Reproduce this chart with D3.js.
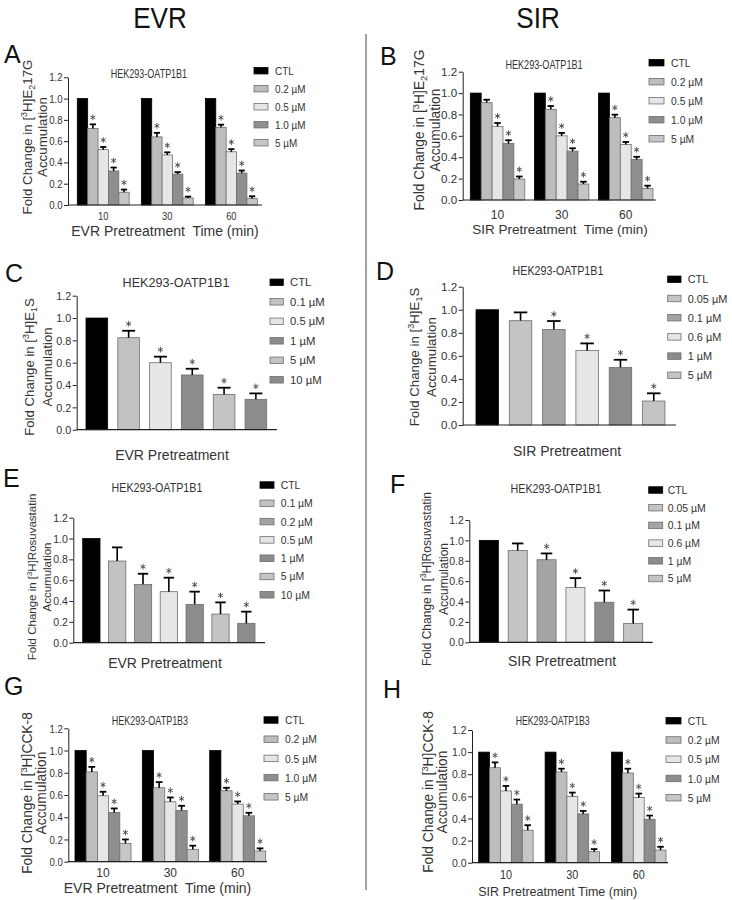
<!DOCTYPE html>
<html><head><meta charset="utf-8">
<script src="https://cdn.jsdelivr.net/npm/d3@7"></script>
<style>body{margin:0;background:#fff} text{font-family:"Liberation Sans",Arial,Helvetica,sans-serif}</style>
</head><body><script>
// ---------- DATA ----------
const yTicks = [0, 0.2, 0.4, 0.6, 0.8, 1.0, 1.2];
const timeLabels = ["10", "30", "60"];
const concTime = ["CTL", "0.2 µM", "0.5 µM", "1.0 µM", "5 µM"];

const meanA = [[1, 0.72, 0.52, 0.32, 0.12], [1, 0.64, 0.47, 0.29, 0.066], [1, 0.73, 0.50, 0.30, 0.06]];
const errA  = [[0, 0.038, 0.025, 0.032, 0.025], [0, 0.038, 0.025, 0.019, 0.013], [0, 0.025, 0.025, 0.024, 0.022]];
const starA = [[0, 1, 1, 1, 1], [0, 1, 1, 1, 1], [0, 1, 1, 1, 1]];

const meanB = [[1, 0.91, 0.689, 0.528, 0.196], [1, 0.848, 0.60, 0.457, 0.149], [1, 0.77, 0.519, 0.379, 0.109]];
const errB  = [[0, 0.028, 0.031, 0.031, 0.024], [0, 0.031, 0.027, 0.027, 0.022], [0, 0.028, 0.024, 0.025, 0.025]];
const starB = [[0, 0, 1, 1, 1], [0, 1, 1, 1, 1], [0, 1, 1, 1, 1]];

const concC = ["CTL", "0.1 µM", "0.5 µM", "1 µM", "5 µM", "10 µM"];
const meanC = [1, 0.824, 0.60, 0.49, 0.316, 0.272];
const errC  = [0, 0.062, 0.054, 0.056, 0.060, 0.053];
const starC = [0, 1, 1, 1, 1, 1];

const concD = ["CTL", "0.05 µM", "0.1 µM", "0.6 µM", "1 µM", "5 µM"];
const meanD = [1, 0.905, 0.829, 0.647, 0.50, 0.208];
const errD  = [0, 0.072, 0.073, 0.061, 0.066, 0.067];
const starD = [0, 0, 1, 1, 1, 1];

const concE = ["CTL", "0.1 µM", "0.2 µM", "0.5 µM", "1 µM", "5 µM", "10 µM"];
const meanE = [1, 0.784, 0.56, 0.49, 0.368, 0.275, 0.186];
const errE  = [0, 0.131, 0.102, 0.134, 0.122, 0.112, 0.112];
const starE = [0, 0, 1, 1, 1, 1, 1];

const concF = ["CTL", "0.05 µM", "0.1 µM", "0.6 µM", "1 µM", "5 µM"];
const meanF = [1, 0.90, 0.81, 0.538, 0.393, 0.184];
const errF  = [0, 0.070, 0.062, 0.092, 0.115, 0.137];
const starF = [0, 0, 1, 1, 1, 1];

const meanG = [[1, 0.808, 0.593, 0.443, 0.165], [1, 0.665, 0.539, 0.461, 0.111], [1, 0.638, 0.518, 0.413, 0.096]];
const errG  = [[0, 0.045, 0.036, 0.036, 0.035], [0, 0.051, 0.039, 0.042, 0.033], [0, 0.027, 0.024, 0.027, 0.024]];
const starG = [[0, 1, 1, 1, 1], [0, 1, 1, 1, 1], [0, 1, 1, 1, 1]];

const meanH = [[1, 0.859, 0.649, 0.529, 0.294], [1, 0.82, 0.60, 0.441, 0.099], [1, 0.811, 0.589, 0.393, 0.114]];
const errH  = [[0, 0.048, 0.045, 0.042, 0.045], [0, 0.030, 0.034, 0.027, 0.024], [0, 0.039, 0.036, 0.033, 0.030]];
const starH = [[0, 1, 1, 1, 1], [0, 1, 1, 1, 1], [0, 1, 1, 1, 1]];

// ---------- STYLES ----------
const colTime = ["#000000", "#bdbdbd", "#e6e6e6", "#8e8e8e", "#c6c6c6"];
const colC = ["#000000", "#c2c2c2", "#e6e6e6", "#8c8c8c", "#c4c4c4", "#8c8c8c"];
const colDF = ["#000000", "#c4c4c4", "#a4a4a4", "#e6e6e6", "#8c8c8c", "#c4c4c4"];
const colE = ["#000000", "#c2c2c2", "#a2a2a2", "#e6e6e6", "#8c8c8c", "#c4c4c4", "#8c8c8c"];

const labE217G = [["Fold Change in [", ""], ["3", "sup"], ["H]E", ""], ["2", "sub"], ["17G", ""]];
const labE1S = [["Fold Change in [", ""], ["3", "sup"], ["H]E", ""], ["1", "sub"], ["S", ""]];
const labRos = [["Fold Change in [", ""], ["3", "sup"], ["H]Rosuvastatin", ""]];
const labCCK = [["Fold Change in [", ""], ["3", "sup"], ["H]CCK-8", ""]];

const svg = d3.select("body").append("svg").attr("width", 732).attr("height", 900);

function sq(sel, s) {
  sel.each(function () {
    const t = d3.select(this);
    const x = +t.attr("x") || 0, y = +t.attr("y") || 0;
    t.attr("transform", `translate(${x},${y}) scale(${s},1) translate(${-x},${-y})`);
  });
}
function label(g, txt, x, y, f, s, anchor, fill) {
  const t = g.append("text").attr("x", x).attr("y", y).attr("font-size", f)
    .attr("text-anchor", anchor || "middle").attr("fill", fill || "#333")
    .style("white-space", "pre").text(txt);
  if (s && s !== 1) sq(t, s);
  return t;
}
function yTitle(g, x, cy, f, parts) {
  const t = g.append("text").attr("transform", `translate(${x},${cy}) rotate(-90)`)
    .attr("text-anchor", "middle").attr("font-size", f).attr("fill", "#333");
  let shift = 0;
  parts.forEach(([txt, kind]) => {
    const ts = t.append("tspan").text(txt);
    const target = kind === "sup" ? -0.38 * f : kind === "sub" ? 0.22 * f : 0;
    ts.attr("dy", target - shift); shift = target;
    if (kind) ts.attr("font-size", f * 0.68);
  });
}
const starPath = d3.symbol(d3.symbolAsterisk, 22)();

function drawPanel(c, d) {
  const g = svg.append("g");
  const y = d3.scaleLinear().domain([0, 1.2]).range([c.y0, c.y12]);
  const gx = d3.scaleBand().domain(d.groups).range([c.r0, c.r1]).paddingInner(c.pad || 0).paddingOuter(0);
  const bx = d3.scaleBand().domain(d.series).range([0, gx.bandwidth()]).paddingInner(c.innerPad || 0).paddingOuter(0);
  const color = d3.scaleOrdinal().domain(d.series).range(d.colors);
  const rows = [];
  d.groups.forEach((grp, gi) => d.series.forEach((s, si) =>
    rows.push({ grp, s, v: d.means[gi][si], e: d.errs[gi][si], star: d.stars[gi][si] })));
  const bw = bx.bandwidth();
  const cx = r => gx(r.grp) + bx(r.s) + bw / 2;

  g.selectAll("rect.bar").data(rows).join("rect").attr("class", "bar")
    .attr("x", r => gx(r.grp) + bx(r.s)).attr("y", r => y(r.v))
    .attr("width", bw).attr("height", r => y(0) - y(r.v))
    .attr("fill", r => color(r.s))
    .attr("stroke", r => color(r.s) === "#000000" ? "#000" : "#6e6e6e").attr("stroke-width", 0.8);

  const eb = rows.filter(r => r.e > 0);
  g.selectAll("line.ev").data(eb).join("line").attr("class", "ev")
    .attr("x1", cx).attr("x2", cx).attr("y1", r => y(r.v)).attr("y2", r => y(r.v + r.e))
    .attr("stroke", "#000").attr("stroke-width", 1.6);
  g.selectAll("line.ec").data(eb).join("line").attr("class", "ec")
    .attr("x1", r => cx(r) - bw * 0.3).attr("x2", r => cx(r) + bw * 0.3)
    .attr("y1", r => y(r.v + r.e)).attr("y2", r => y(r.v + r.e))
    .attr("stroke", "#000").attr("stroke-width", 1.8);
  g.selectAll("path.star").data(rows.filter(r => r.star)).join("path").attr("class", "star")
    .attr("d", starPath)
    .attr("transform", r => `translate(${cx(r)},${y(r.v + r.e) - 7})`)
    .attr("fill", "none").attr("stroke", "#444").attr("stroke-width", 0.9);

  // y axis
  const ya = g.append("g").attr("transform", `translate(${c.ax},0)`)
    .call(d3.axisLeft(y).tickValues(yTicks).tickFormat(d3.format(".1f")).tickSize(4).tickSizeOuter(0).tickPadding(1.5));
  ya.selectAll("text").attr("font-size", c.tick.f).attr("fill", "#333");
  sq(ya.selectAll("text"), c.tick.s);
  ya.selectAll("line,path").attr("stroke", "#222");

  // x baseline
  g.append("line").attr("x1", c.ax).attr("x2", c.ae).attr("y1", y(0)).attr("y2", y(0))
    .attr("stroke", "#222").attr("stroke-width", 1.2);

  if (c.xtick) {
    const xa = g.append("g").attr("transform", `translate(0,${y(0)})`)
      .call(d3.axisBottom(gx).tickSize(0).tickPadding(c.xtick.base - y(0) - 0.71 * c.xtick.f));
    xa.select(".domain").remove();
    xa.selectAll("text").attr("font-size", c.xtick.f).attr("fill", "#333");
    sq(xa.selectAll("text"), c.xtick.s);
  }
  // titles
  label(g, c.title.t, c.title.x, c.title.y, c.title.f, c.title.s);
  label(g, c.xt.t, c.xt.x, c.xt.y, c.xt.f, c.xt.s || 1);
  label(g, c.letter.t, c.letter.x, c.letter.y, 25, 1, "start", "#111");
  yTitle(g, c.yt.l1x, c.yt.cy, c.yt.f, d.ylab);
  yTitle(g, c.yt.l2x, c.yt.cy, c.yt.f, [["Accumulation", ""]]);

  // legend
  const L = c.leg;
  const lg = g.append("g");
  d.series.forEach((s, i) => {
    const yy = L.y0 + L.dy * i;
    lg.append("rect").attr("x", L.x).attr("y", yy - L.h / 2).attr("width", L.w).attr("height", L.h)
      .attr("fill", color(s)).attr("stroke", color(s) === "#000000" ? "#000" : "#6e6e6e").attr("stroke-width", 0.8);
    label(lg, s, L.tx, yy + 0.36 * L.f, L.f, L.s || 1, "start");
  });
}

// header + divider
label(svg, "EVR", 160, 28, 29, 0.9, "middle", "#111");
label(svg, "SIR", 538, 28, 29, 0.9, "middle", "#111");
svg.append("line").attr("x1", 366).attr("x2", 366).attr("y1", 34).attr("y2", 890).attr("stroke", "#444").attr("stroke-width", 1);

const T = "HEK293-OATP1B1", T3 = "HEK293-OATP1B3";
drawPanel({
  letter: { t: "A", x: 4, y: 63 }, ax: 68, ae: 262, y0: 205, y12: 77.3, r0: 77.3, r1: 257.3, pad: 0.19,
  title: { t: T, x: 149, y: 77.7, f: 12.5, s: 0.72 }, tick: { f: 11, s: 0.87 },
  xtick: { f: 11, s: 0.85, base: 220.5 }, xt: { t: "EVR Pretreatment  Time (min)", x: 165, y: 236, f: 14 },
  leg: { x: 254, w: 14, h: 6.5, y0: 70.7, dy: 18, tx: 275, f: 11, s: 0.9 },
  yt: { l1x: 32, l2x: 46.5, cy: 137, f: 13.3 }
}, { groups: timeLabels, series: concTime, colors: colTime, means: meanA, errs: errA, stars: starA, ylab: labE217G });

drawPanel({
  letter: { t: "B", x: 380, y: 65 }, ax: 462.7, ae: 656, y0: 200, y12: 71.7, r0: 470.3, r1: 653, pad: 0.15,
  title: { t: T, x: 544, y: 69.3, f: 13, s: 0.7 }, tick: { f: 11.6, s: 1 },
  xtick: { f: 12, s: 1, base: 219 }, xt: { t: "SIR Pretreatment  Time (min)", x: 560, y: 234, f: 13.5 },
  leg: { x: 649, w: 15, h: 6.5, y0: 62.7, dy: 19, tx: 671, f: 11.5, s: 0.9 },
  yt: { l1x: 424, l2x: 440, cy: 130, f: 13.8 }
}, { groups: timeLabels, series: concTime, colors: colTime, means: meanB, errs: errB, stars: starB, ylab: labE217G });

drawPanel({
  letter: { t: "C", x: 5, y: 282 }, ax: 76.7, ae: 277, y0: 429.7, y12: 295.7, r0: 86, r1: 266.7, innerPad: 0.32,
  title: { t: T, x: 176, y: 286.7, f: 12.6, s: 1 }, tick: { f: 11.6, s: 0.93 },
  xt: { t: "EVR Pretreatment", x: 172, y: 460, f: 14 },
  leg: { x: 270, w: 13.3, h: 6.5, y0: 282.3, dy: 19.5, tx: 290, f: 11.3, s: 1 },
  yt: { l1x: 34, l2x: 52, cy: 367, f: 13.2 }
}, { groups: [""], series: concC, colors: colC, means: [meanC], errs: [errC], stars: [starC], ylab: labE1S });

drawPanel({
  letter: { t: "D", x: 376, y: 280 }, ax: 462.7, ae: 676, y0: 425, y12: 286.7, r0: 476, r1: 665, innerPad: 0.325,
  title: { t: T, x: 558, y: 275, f: 12.6, s: 0.85 }, tick: { f: 11.6, s: 1 },
  xt: { t: "SIR Pretreatment", x: 567, y: 456, f: 14 },
  leg: { x: 667.7, w: 13.3, h: 6.5, y0: 279.3, dy: 19.2, tx: 687.7, f: 11.5, s: 0.95 },
  yt: { l1x: 419, l2x: 436, cy: 357, f: 13.3 }
}, { groups: [""], series: concD, colors: colDF, means: [meanD], errs: [errD], stars: [starD], ylab: labE1S });

drawPanel({
  letter: { t: "E", x: 3, y: 487 }, ax: 73.3, ae: 265, y0: 642.7, y12: 517.7, r0: 82.7, r1: 255, innerPad: 0.33,
  title: { t: T, x: 157, y: 491.7, f: 12.6, s: 0.85 }, tick: { f: 11.3, s: 0.93 },
  xt: { t: "EVR Pretreatment", x: 165, y: 668, f: 14 },
  leg: { x: 260, w: 14, h: 6.5, y0: 485, dy: 18.3, tx: 280.7, f: 11, s: 0.95 },
  yt: { l1x: 36, l2x: 51, cy: 577, f: 11.5 }
}, { groups: [""], series: concE, colors: colE, means: [meanE], errs: [errE], stars: [starE], ylab: labRos });

drawPanel({
  letter: { t: "F", x: 390, y: 493 }, ax: 469.3, ae: 652.7, y0: 642.3, y12: 520, r0: 479.3, r1: 642.7, innerPad: 0.34,
  title: { t: T, x: 556, y: 493.3, f: 12.6, s: 0.85 }, tick: { f: 11.3, s: 0.93 },
  xt: { t: "SIR Pretreatment", x: 562, y: 666, f: 14 },
  leg: { x: 648.7, w: 14, h: 6.5, y0: 490, dy: 17.7, tx: 667.7, f: 11, s: 0.95 },
  yt: { l1x: 431, l2x: 447.7, cy: 579, f: 12 }
}, { groups: [""], series: concF, colors: colDF, means: [meanF], errs: [errF], stars: [starF], ylab: labRos });

drawPanel({
  letter: { t: "G", x: 4, y: 695 }, ax: 68.3, ae: 267, y0: 861.7, y12: 728.3, r0: 75, r1: 265.7, pad: 0.168,
  title: { t: T3, x: 150, y: 725, f: 12.5, s: 0.72 }, tick: { f: 11.6, s: 0.83 },
  xtick: { f: 12, s: 1, base: 877 }, xt: { t: "EVR Pretreatment  Time (min)", x: 157.5, y: 893, f: 14 },
  leg: { x: 264, w: 14, h: 6.5, y0: 720, dy: 19.2, tx: 285, f: 11.5, s: 0.9 },
  yt: { l1x: 32, l2x: 46, cy: 793, f: 13.8 }
}, { groups: timeLabels, series: concTime, colors: colTime, means: meanG, errs: errG, stars: starG, ylab: labCCK });

drawPanel({
  letter: { t: "H", x: 383, y: 698 }, ax: 472, ae: 668, y0: 862.7, y12: 730, r0: 478.7, r1: 666, pad: 0.18,
  title: { t: T3, x: 552.7, y: 725, f: 12.5, s: 0.7 }, tick: { f: 11.6, s: 0.9 },
  xtick: { f: 12, s: 0.9, base: 879 }, xt: { t: "SIR Pretreatment Time (min)", x: 557.7, y: 896, f: 12.5 },
  leg: { x: 666, w: 15, h: 6.5, y0: 720.7, dy: 19.25, tx: 687.7, f: 11.5, s: 0.9 },
  yt: { l1x: 433, l2x: 447, cy: 792, f: 13.8 }
}, { groups: timeLabels, series: concTime, colors: colTime, means: meanH, errs: errH, stars: starH, ylab: labCCK });
</script></body></html>
